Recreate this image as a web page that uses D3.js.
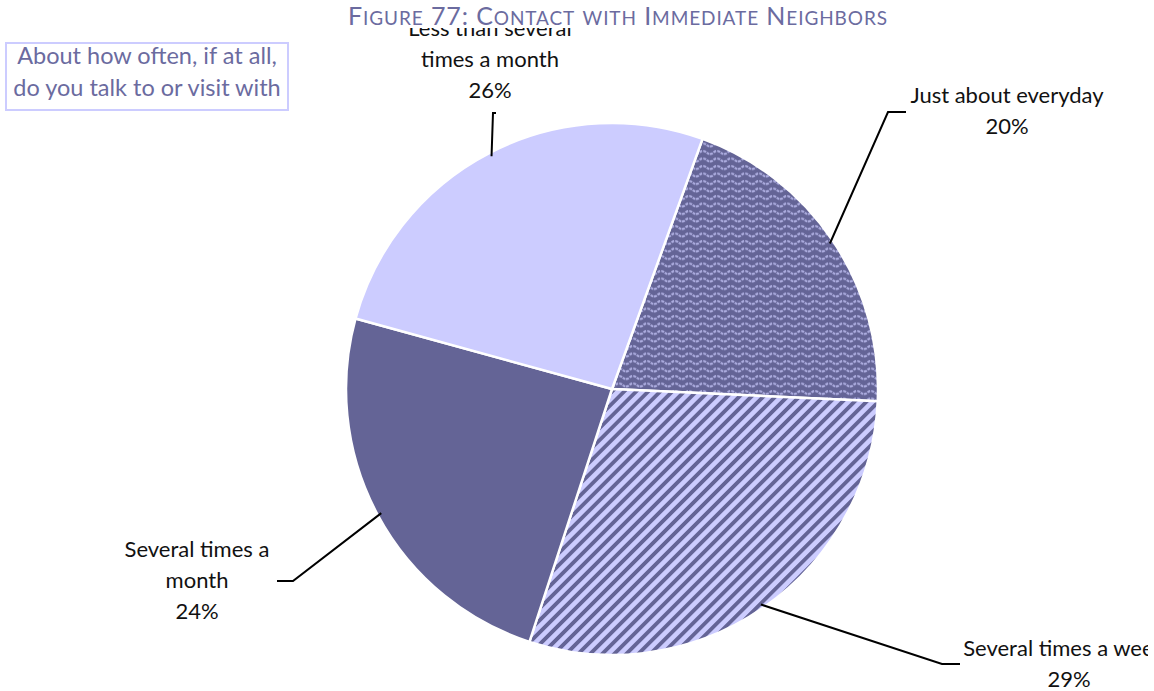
<!DOCTYPE html>
<html>
<head>
<meta charset="utf-8">
<script src="https://cdn.jsdelivr.net/npm/d3@7"></script>
<style>
  body { margin: 0; background: #fff; }
  svg { display: block; }
</style>
</head>
<body>
<svg id="chart" width="1154" height="691"></svg>
<script>
// Survey answers and their shares (percent)
const categories = [
  "Just about everyday",
  "Several times a week",
  "Several times a month",
  "Less than several times a month"
];
const values = [20, 29, 24, 26];
// How each category label wraps onto lines
const labelLines = [
  ["Just about everyday"],
  ["Several times a week"],
  ["Several times a", "month"],
  ["Less than several", "times a month"]
];
const titleText = "Figure 77: Contact with Immediate Neighbors";
const questionLines = ["About how often, if at all,", "do you talk to or visit with"];

const W = 1154, H = 691;
const cx = 612, cy = 389, radius = 266;
const startDeg = 19.9;

const light = "#ccccff", dark = "#646496", ink = "#6b6b9f";
const font = "Lato, 'Open Sans', sans-serif";

const svg = d3.select("#chart");
const defs = svg.append("defs");

// wavy texture: pale waves on dark purple
const wave = defs.append("pattern")
  .attr("id", "wave").attr("patternUnits", "userSpaceOnUse")
  .attr("width", 14).attr("height", 7.5);
wave.append("rect").attr("width", 14).attr("height", 7.5).attr("fill", dark);
wave.append("path")
  .attr("d", "M0,5 C3.5,5 3.5,2 7,2 C10.5,2 10.5,5 14,5")
  .attr("fill", "none").attr("stroke", "#acacdf").attr("stroke-width", 2.2)
  .attr("stroke-dasharray", "3 1");

// diagonal stripes on pale lavender
const stripe = defs.append("pattern")
  .attr("id", "stripe").attr("patternUnits", "userSpaceOnUse")
  .attr("width", 8.5).attr("height", 10)
  .attr("patternTransform", "rotate(45)");
stripe.append("rect").attr("width", 8.5).attr("height", 10).attr("fill", light);
stripe.append("rect").attr("x", 0).attr("width", 3.8).attr("height", 10).attr("fill", dark);

const fills = ["url(#wave)", "url(#stripe)", dark, light];

// chart area clips labels at the edges
defs.append("clipPath").attr("id", "plotClip")
  .append("rect").attr("x", 0).attr("y", 28).attr("width", 1148).attr("height", H - 28);

const plot = svg.append("g").attr("clip-path", "url(#plotClip)");

const toRad = d => d * Math.PI / 180;
const pie = d3.pie().sort(null).value(d => d)
  .startAngle(toRad(startDeg)).endAngle(toRad(startDeg + 360));
const arcs = pie(values);
const arc = d3.arc().innerRadius(0).outerRadius(radius);

const g = plot.append("g").attr("transform", `translate(${cx},${cy})`);
g.selectAll("path.slice").data(arcs).join("path")
  .attr("class", "slice")
  .attr("d", arc)
  .attr("fill", (d, i) => fills[i])
  .attr("stroke", "#fff").attr("stroke-width", 2.5)
  .attr("stroke-linejoin", "round");

// label placement: elbow of the leader, end of the leader, text centre, first baseline
const labelLayout = [
  { elbow: [888, 112], end: [906, 112], tx: 1007, ty: 103 },
  { elbow: [942, 664], end: [960, 664], tx: 1064, ty: 656 },
  { elbow: [293, 581], end: [277, 581], tx: 197, ty: 557 },
  { elbow: [493, 113], end: [496, 113], tx: 490, ty: 36 }
];
const lineGap = 31;

arcs.forEach((a, i) => {
  const mid = (a.startAngle + a.endAngle) / 2;
  const r0 = radius * 0.985;
  const p0 = [cx + r0 * Math.sin(mid), cy - r0 * Math.cos(mid)];
  const L = labelLayout[i];
  plot.append("path")
    .attr("d", d3.line()([p0, L.elbow, L.end]))
    .attr("fill", "none").attr("stroke", "#000").attr("stroke-width", 2);

  const t = plot.append("text")
    .attr("text-anchor", "middle")
    .attr("font-family", font)
    .attr("font-size", 22).attr("fill", "#111");
  const lines = labelLines[i].concat([values[i] + "%"]);
  lines.forEach((ln, k) => {
    const x = (k === lines.length - 1 && i === 1) ? L.tx + 5 : L.tx;
    t.append("tspan").attr("x", x).attr("y", L.ty + k * lineGap).text(ln);
  });
});

// title in small capitals: capitals full size, lower case letters as smaller capitals
const title = svg.append("text")
  .attr("x", 618).attr("y", 25)
  .attr("text-anchor", "middle")
  .attr("font-family", font)
  .attr("letter-spacing", 0.9)
  .attr("fill", ink);
const runs = [];
for (const ch of titleText) {
  const small = ch !== ch.toUpperCase();
  const last = runs[runs.length - 1];
  if (last && last.small === small) last.s += ch;
  else runs.push({ small, s: ch });
}
runs.forEach(r => {
  title.append("tspan")
    .attr("font-size", r.small ? 19 : 25)
    .text(r.small ? r.s.toUpperCase() : r.s);
});

// question box
svg.append("rect")
  .attr("x", 6).attr("y", 43).attr("width", 282).attr("height", 67)
  .attr("fill", "#fff").attr("stroke", light).attr("stroke-width", 2);
const q = svg.append("text")
  .attr("text-anchor", "middle")
  .attr("font-family", font)
  .attr("font-size", 23.5).attr("fill", ink);
questionLines.forEach((ln, k) => {
  q.append("tspan").attr("x", 147).attr("y", 64 + k * 32).text(ln);
});
</script>
</body>
</html>
